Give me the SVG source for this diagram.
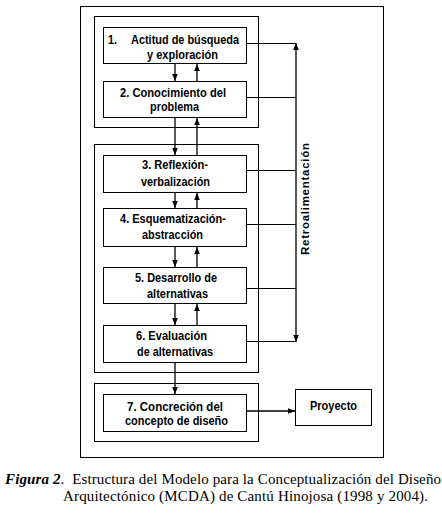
<svg xmlns="http://www.w3.org/2000/svg" width="442" height="517" viewBox="0 0 442 517">
<defs>
<marker id="ah" viewBox="0 0 10 10" refX="10" refY="5" markerWidth="7" markerHeight="7" markerUnits="userSpaceOnUse" orient="auto">
<path d="M0,1 L10,5 L0,9 Z" fill="#000"/>
</marker>
<style>
.frame{fill:none;stroke:#000;stroke-width:1}
.box{fill:#fff;stroke:#000;stroke-width:1}
.lbl{font-family:"Liberation Sans",Arial,sans-serif;font-weight:bold;font-size:13px;fill:#000}
.conn{fill:none;stroke:#000;stroke-width:1.3}
.cap{font-family:"Liberation Serif","Times New Roman",serif;font-size:15px;fill:#000;white-space:pre}
</style>
</defs>
<rect x="0" y="0" width="442" height="517" fill="#fff"/>
<rect class="frame" x="80.5" y="6.5" width="303" height="451"/>
<g id="groups">
<rect class="frame" x="94.5" y="16.5" width="164" height="111"/>
<rect class="frame" x="94.5" y="144.5" width="164" height="228"/>
<rect class="frame" x="94.5" y="383.5" width="164" height="58"/>
</g>
<g id="connectors">
<line class="conn" x1="175" y1="64" x2="175" y2="81" marker-end="url(#ah)"/>
<line class="conn" x1="197" y1="81" x2="197" y2="64" marker-end="url(#ah)"/>
<line class="conn" x1="175" y1="118" x2="175" y2="155" marker-end="url(#ah)"/>
<line class="conn" x1="197" y1="155" x2="197" y2="118" marker-end="url(#ah)"/>
<line class="conn" x1="175" y1="193" x2="175" y2="208" marker-end="url(#ah)"/>
<line class="conn" x1="197" y1="208" x2="197" y2="193" marker-end="url(#ah)"/>
<line class="conn" x1="175" y1="247" x2="175" y2="267" marker-end="url(#ah)"/>
<line class="conn" x1="197" y1="267" x2="197" y2="247" marker-end="url(#ah)"/>
<line class="conn" x1="175" y1="304" x2="175" y2="325" marker-end="url(#ah)"/>
<line class="conn" x1="197" y1="325" x2="197" y2="304" marker-end="url(#ah)"/>
<line class="conn" x1="175" y1="363" x2="175" y2="394" marker-end="url(#ah)"/>
<line class="conn" x1="247" y1="411" x2="295" y2="411" stroke-width="2" marker-end="url(#ah)"/>
<line class="conn" x1="296" y1="192" x2="296" y2="43" marker-end="url(#ah)"/>
<line class="conn" x1="296" y1="192" x2="296" y2="342" marker-end="url(#ah)"/>
<g fill="none" stroke="#000" stroke-width="1">
<line x1="247" y1="43.5" x2="296" y2="43.5"/>
<line x1="247" y1="97.5" x2="296" y2="97.5"/>
<line x1="247" y1="170.5" x2="296" y2="170.5"/>
<line x1="247" y1="224.5" x2="296" y2="224.5"/>
<line x1="247" y1="288.5" x2="296" y2="288.5"/>
<line x1="247" y1="341.5" x2="296" y2="341.5"/>
</g>
<text x="305" y="199" transform="rotate(-90 305 199)" text-anchor="middle" dominant-baseline="central" font-family="'Liberation Sans', Arial, sans-serif" font-weight="bold" font-size="11.5" textLength="112" lengthAdjust="spacing">Retroalimentación</text>
</g>
<g id="n1">
<rect class="box" x="103.5" y="27.5" width="143" height="36"/>
<text class="lbl" x="108" y="44" textLength="9" lengthAdjust="spacingAndGlyphs">1.</text>
<text class="lbl" x="131" y="44" textLength="108" lengthAdjust="spacingAndGlyphs">Actitud de búsqueda</text>
<text class="lbl" x="147" y="59" textLength="71" lengthAdjust="spacingAndGlyphs">y exploración</text>
</g>
<g id="n2">
<rect class="box" x="103.5" y="81.5" width="143" height="36"/>
<text class="lbl" x="120" y="97" textLength="106" lengthAdjust="spacingAndGlyphs">2. Conocimiento del</text>
<text class="lbl" x="150" y="111" textLength="49" lengthAdjust="spacingAndGlyphs">problema</text>
</g>
<g id="n3">
<rect class="box" x="103.5" y="155.5" width="143" height="37"/>
<text class="lbl" x="142" y="169" textLength="66" lengthAdjust="spacingAndGlyphs">3. Reflexión-</text>
<text class="lbl" x="141" y="186" textLength="69" lengthAdjust="spacingAndGlyphs">verbalización</text>
</g>
<g id="n4">
<rect class="box" x="103.5" y="208.5" width="143" height="38"/>
<text class="lbl" x="120" y="223" textLength="106" lengthAdjust="spacingAndGlyphs">4. Esquematización-</text>
<text class="lbl" x="142" y="239" textLength="61" lengthAdjust="spacingAndGlyphs">abstracción</text>
</g>
<g id="n5">
<rect class="box" x="103.5" y="267.5" width="143" height="36"/>
<text class="lbl" x="135" y="282" textLength="82" lengthAdjust="spacingAndGlyphs">5. Desarrollo de</text>
<text class="lbl" x="147" y="298" textLength="61" lengthAdjust="spacingAndGlyphs">alternativas</text>
</g>
<g id="n6">
<rect class="box" x="103.5" y="325.5" width="143" height="37"/>
<text class="lbl" x="136" y="340" textLength="71" lengthAdjust="spacingAndGlyphs">6. Evaluación</text>
<text class="lbl" x="137" y="356" textLength="76" lengthAdjust="spacingAndGlyphs">de alternativas</text>
</g>
<g id="n7">
<rect class="box" x="103.5" y="394.5" width="143" height="37"/>
<text class="lbl" x="127" y="411" textLength="96" lengthAdjust="spacingAndGlyphs">7. Concreción del</text>
<text class="lbl" x="125" y="425" textLength="103" lengthAdjust="spacingAndGlyphs">concepto de diseño</text>
</g>
<g id="n8">
<rect class="box" x="295.5" y="389.5" width="76" height="36"/>
<text class="lbl" x="310" y="410" textLength="47" lengthAdjust="spacingAndGlyphs">Proyecto</text>
</g>
<g id="caption">
<text class="cap" x="5" y="484" textLength="436" lengthAdjust="spacing"><tspan font-weight="bold" font-style="italic">Figura 2</tspan>.  Estructura del Modelo para la Conceptualización del Diseño</text>
<text class="cap" x="63" y="501" textLength="365" lengthAdjust="spacing">Arquitectónico (MCDA) de Cantú Hinojosa (1998 y 2004).</text>
</g>
</svg>
